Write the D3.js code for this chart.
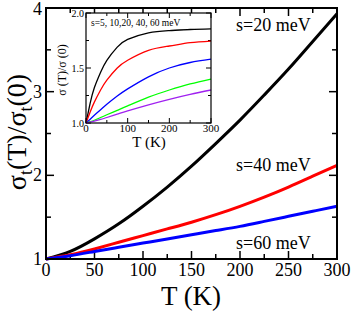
<!DOCTYPE html>
<html>
<head>
<meta charset="utf-8">
<script src="https://cdn.jsdelivr.net/npm/d3@7"></script>
<style>
  body { margin: 0; background: #fff; }
  svg { display: block; font-family: "Liberation Serif", "DejaVu Serif", serif; }
</style>
</head>
<body>
<div id="chart"></div>
<script>
// main panel data
const temps = [0, 25, 50, 75, 100, 125, 150, 175, 200, 225, 250, 275, 300];
const s20 = [1.0, 1.09, 1.24, 1.42, 1.63, 1.86, 2.11, 2.38, 2.66, 2.96, 3.27, 3.60, 3.93];
const s40 = [1.0, 1.05, 1.12, 1.20, 1.28, 1.36, 1.44, 1.53, 1.63, 1.74, 1.86, 1.99, 2.12];
const s60 = [1.0, 1.04, 1.09, 1.14, 1.19, 1.24, 1.29, 1.34, 1.39, 1.45, 1.51, 1.57, 1.63];
const mainLabels = ["s=20 meV", "s=40 meV", "s=60 meV"];
const xTicks = [0, 50, 100, 150, 200, 250, 300];
const yTicks = [1, 2, 3, 4];

// inset data
const insetTemps = [0, 10, 20, 35, 50, 75, 100, 150, 200, 250, 300];
const in5  = [1.0, 1.18, 1.32, 1.46, 1.57, 1.69, 1.76, 1.82, 1.84, 1.85, 1.855];
const in10 = [1.0, 1.10, 1.19, 1.30, 1.39, 1.50, 1.57, 1.66, 1.70, 1.73, 1.745];
const in20 = [1.0, 1.035, 1.07, 1.12, 1.17, 1.245, 1.31, 1.42, 1.50, 1.55, 1.58];
const in40 = [1.0, 1.012, 1.025, 1.05, 1.075, 1.115, 1.155, 1.235, 1.30, 1.355, 1.40];
const in60 = [1.0, 1.008, 1.017, 1.032, 1.05, 1.08, 1.11, 1.165, 1.215, 1.26, 1.30];
const insetXTicks = [0, 100, 200, 300];
const insetYTicks = [1.0, 1.5, 2.0];

const W = 354, H = 312;
const svg = d3.select("#chart").append("svg")
  .attr("width", W).attr("height", H);

// ---- main panel ----
const x = d3.scaleLinear().domain([0, 300]).range([46, 337]);
const y = d3.scaleLinear().domain([1, 4]).range([259, 8]);

// inward ticks on all four sides, grace style
function frameTicks(g, xs, ys, xMaj, xMin, yMaj, yMin, lenMaj, lenMin, sw) {
  const [x0, x1] = xs.range(), [y0, y1] = ys.range();
  const tick = (a, b, c, d) => g.append("line")
    .attr("x1", a).attr("y1", b).attr("x2", c).attr("y2", d)
    .attr("stroke", "#000").attr("stroke-width", sw);
  xMin.forEach(v => { const p = xs(v); tick(p, y0, p, y0 - lenMin); tick(p, y1, p, y1 + lenMin); });
  xMaj.forEach(v => { const p = xs(v); tick(p, y0, p, y0 - lenMaj); tick(p, y1, p, y1 + lenMaj); });
  yMin.forEach(v => { const p = ys(v); tick(x0, p, x0 + lenMin, p); tick(x1, p, x1 - lenMin, p); });
  yMaj.forEach(v => { const p = ys(v); tick(x0, p, x0 + lenMaj, p); tick(x1, p, x1 - lenMaj, p); });
}

const main = svg.append("g");
frameTicks(main, x, y, xTicks, d3.range(25, 300, 50), yTicks, [1.5, 2.5, 3.5], 8, 5, 1.5);

const line = (ys, xs) => d3.line()
  .x(d => xs(d[0])).y(d => ys(d[1]))
  .curve(d3.curveNatural);

const mainSeries = [
  { vals: s20, color: "#000000" },
  { vals: s40, color: "#ff0000" },
  { vals: s60, color: "#0000ff" }
];
main.selectAll("path.curve")
  .data(mainSeries)
  .join("path")
  .attr("class", "curve")
  .attr("fill", "none")
  .attr("stroke", d => d.color)
  .attr("stroke-width", 3)
  .attr("d", d => line(y, x)(temps.map((t, i) => [t, d.vals[i]])));

main.append("rect")
  .attr("x", 46).attr("y", 8).attr("width", 291).attr("height", 251)
  .attr("fill", "none").attr("stroke", "#000").attr("stroke-width", 2);

main.selectAll("text.xt")
  .data(xTicks).join("text")
  .attr("class", "xt")
  .attr("x", d => x(d)).attr("y", 276)
  .attr("text-anchor", "middle")
  .style("font-size", "18px")
  .text(d => d);

main.selectAll("text.yt")
  .data(yTicks).join("text")
  .attr("class", "yt")
  .attr("x", 42).attr("y", d => Math.max(y(d) + 6, 15))
  .attr("text-anchor", "end")
  .style("font-size", "18px")
  .text(d => d);

main.append("text")
  .attr("x", 191).attr("y", 305)
  .attr("text-anchor", "middle")
  .style("font-size", "27px")
  .text("T (K)");

const yTitle = main.append("text")
  .attr("transform", "translate(26,132) rotate(-90)")
  .attr("text-anchor", "middle")
  .style("font-size", "28px");
yTitle.append("tspan").text("σ");
yTitle.append("tspan").attr("dy", 6).style("font-size", "18px").text("t");
yTitle.append("tspan").attr("dy", -6).text("(T)/σ");
yTitle.append("tspan").attr("dy", 6).style("font-size", "18px").text("t");
yTitle.append("tspan").attr("dy", -6).text("(0)");

const labelPos = [[236, 31], [236, 171], [236, 249]];
main.selectAll("text.lab")
  .data(mainLabels).join("text")
  .attr("class", "lab")
  .attr("x", (d, i) => labelPos[i][0]).attr("y", (d, i) => labelPos[i][1])
  .style("font-size", "18px")
  .text(d => d);

// ---- inset ----
const ix = d3.scaleLinear().domain([0, 300]).range([86, 211]);
const iy = d3.scaleLinear().domain([1, 2]).range([123, 13]);
const inset = svg.append("g");

inset.append("rect")
  .attr("x", 86).attr("y", 13).attr("width", 125).attr("height", 110)
  .attr("fill", "#fff");

frameTicks(inset, ix, iy, insetXTicks, [50, 150, 250], insetYTicks, [1.25, 1.75], 5, 3, 1);

const insetSeries = [
  { vals: in5, color: "#000000" },
  { vals: in10, color: "#ff0000" },
  { vals: in20, color: "#0000ff" },
  { vals: in40, color: "#00ff00" },
  { vals: in60, color: "#a020f0" }
];
inset.selectAll("path.icurve")
  .data(insetSeries)
  .join("path")
  .attr("class", "icurve")
  .attr("fill", "none")
  .attr("stroke", d => d.color)
  .attr("stroke-width", 1.3)
  .attr("d", d => line(iy, ix)(insetTemps.map((t, i) => [t, d.vals[i]])));

inset.append("rect")
  .attr("x", 86).attr("y", 13).attr("width", 125).attr("height", 110)
  .attr("fill", "none").attr("stroke", "#000").attr("stroke-width", 1.2);

inset.selectAll("text.ixt")
  .data(insetXTicks).join("text")
  .attr("class", "ixt")
  .attr("x", d => ix(d)).attr("y", 132)
  .attr("text-anchor", "middle")
  .style("font-size", "11px")
  .text(d => d);

inset.selectAll("text.iyt")
  .data(insetYTicks).join("text")
  .attr("class", "iyt")
  .attr("x", 84).attr("y", d => iy(d) + 3.5)
  .attr("text-anchor", "end")
  .style("font-size", "10px")
  .text(d => d3.format(".1f")(d));

inset.append("text")
  .attr("x", 149).attr("y", 147)
  .attr("text-anchor", "middle")
  .style("font-size", "15px")
  .text("T (K)");

inset.append("text")
  .attr("transform", "translate(66,70) rotate(-90)")
  .attr("text-anchor", "middle")
  .style("font-size", "12px")
  .text("σ (T)/σ (0)");

inset.append("text")
  .attr("x", 91).attr("y", 26)
  .style("font-size", "9.5px")
  .text("s=5, 10,20, 40, 60 meV");
</script>
</body>
</html>
